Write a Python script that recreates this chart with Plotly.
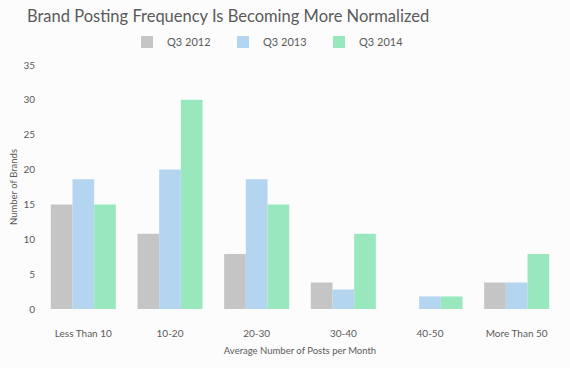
import plotly.graph_objects as go

categories = ["Less Than 10", "10-20", "20-30", "30-40", "40-50", "More Than 50"]
q3_2012 = [15, 10.8, 7.9, 3.8, 0, 3.8]
q3_2013 = [18.6, 20, 18.6, 2.8, 1.8, 3.8]
q3_2014 = [15, 30, 15, 10.8, 1.8, 7.9]
series_names = ["Q3 2012", "Q3 2013", "Q3 2014"]
colors = ["#c5c5c5", "#b3d5f0", "#99e8bd"]
y_ticks = [0, 5, 10, 15, 20, 25, 30, 35]

fig = go.Figure()
for name, vals, col in zip(series_names, [q3_2012, q3_2013, q3_2014], colors):
    fig.add_trace(go.Bar(x=categories, y=vals, name=name, marker=dict(color=col, line=dict(width=0))))

font_family = "Lato, 'Open Sans', sans-serif"
txt = "#5a5a5a"
top, bottom = 65, 309
plot_h = bottom - top
fig.update_layout(
    width=570, height=368,
    margin=dict(l=40, r=10, t=top, b=368 - bottom, autoexpand=False),
    paper_bgcolor="#fcfcfc", plot_bgcolor="#fcfcfc",
    barmode="group", bargap=0.25, bargroupgap=0,
    font=dict(family=font_family, color=txt, size=10),
    title=dict(text="Brand Posting Frequency Is Becoming More Normalized",
               x=27/570, xanchor="left", y=1-16/368, yanchor="middle",
               font=dict(size=16.5, color=txt, family=font_family)),
    legend=dict(orientation="h", x=(127-40)/520, xanchor="left",
                y=1 + (top - 42) / plot_h, yanchor="middle",
                itemwidth=30, entrywidth=51, entrywidthmode="pixels",
                font=dict(size=11, color=txt), itemclick=False,
                bgcolor="rgba(0,0,0,0)"),
    showlegend=True,
)
fig.update_xaxes(showgrid=False, showline=False, zeroline=False, ticks="",
                 ticklabelstandoff=17,
                 tickfont=dict(size=10, color=txt),
                 title=dict(text="Average Number of Posts per Month", font=dict(size=9.5, color=txt), standoff=9))
fig.update_yaxes(range=[0, 35], tickvals=y_ticks, showgrid=False, showline=False, zeroline=False,
                 ticks="", ticklabelstandoff=4,
                 tickfont=dict(size=10, color=txt),
                 title=dict(text="Number of Brands", font=dict(size=9.5, color=txt), standoff=4))

fig.write_html("out.html", config={"displayModeBar": False},
               post_script="document.body.style.margin='0';document.body.style.background='#fcfcfc';")
